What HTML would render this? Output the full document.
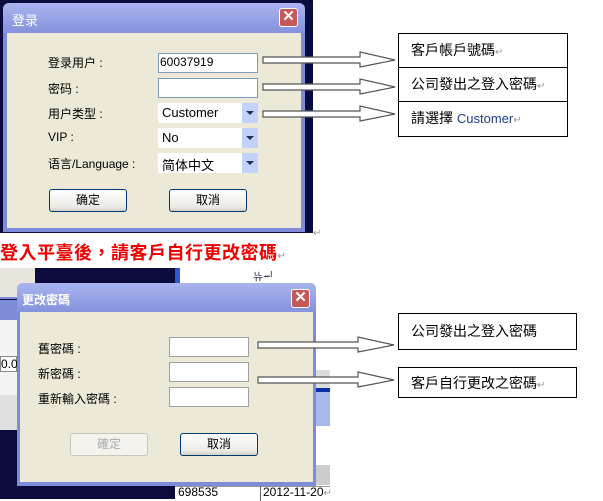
<!DOCTYPE html>
<html><head><meta charset="utf-8"><style>
*{margin:0;padding:0;box-sizing:border-box}
body{width:603px;height:499px;background:#fff;position:relative;overflow:hidden;font-family:"Liberation Sans","Noto Sans CJK SC",sans-serif;font-size:12px;color:#000}
.a{position:absolute}
.inp{position:absolute;background:#fff;border:1px solid #7f9db9}
.sel{position:absolute;background:#fff}
.sel i{position:absolute;right:0;top:0;width:16px;height:100%;background:#c1d3fb}
.sel i:after{content:"";position:absolute;left:4px;top:8px;border-left:4px solid transparent;border-right:4px solid transparent;border-top:4px solid #1d2f5e}
.btn{position:absolute;border:1px solid #003c74;border-radius:3px;background:linear-gradient(#fff,#ecebe6 80%,#d6d0c5);text-align:center;line-height:20px;font-size:12px}
.close{position:absolute;width:19px;height:19px;border:1px solid #fff;border-radius:3px;background:#c4595a;color:#fff;font-size:15px;line-height:16px;text-align:center;font-weight:bold}
.box{position:absolute;border:1px solid #000;font-size:14px;padding-left:12px}
</style></head><body>
<!-- top dialog area -->
<div class="a" style="left:0;top:0;width:313px;height:233px;background:#0b0b3d"></div>
<div class="a" style="left:3px;top:3px;width:302px;height:229px;background:#7e8bd6;border-radius:6px 6px 0 0"></div>
<div class="a" style="left:3px;top:3px;width:302px;height:30px;background:linear-gradient(#a9b4ee,#8592dd);border-radius:6px 6px 0 0"></div>
<div class="a" style="left:12px;top:10px;color:#fff;font-size:13px">登录</div>
<div class="close" style="left:279px;top:8px">✕</div>
<div class="a" style="left:7px;top:33px;width:294px;height:195px;background:#ece9d8"></div>
<div class="a" style="left:48px;top:54px">登录用户 :</div>
<div class="a" style="left:48px;top:80px">密码 :</div>
<div class="a" style="left:48px;top:105px">用户类型 :</div>
<div class="a" style="left:48px;top:130px">VIP :</div>
<div class="a" style="left:48px;top:155px">语言/Language :</div>
<div class="inp" style="left:158px;top:53px;width:100px;height:20px;padding-left:1px;line-height:17px">60037919</div>
<div class="inp" style="left:158px;top:78px;width:100px;height:20px"></div>
<div class="sel" style="left:158px;top:103px;width:100px;height:20px"><span class="a" style="left:4px;top:2px;font-size:13px">Customer</span><i></i></div>
<div class="sel" style="left:158px;top:128px;width:100px;height:20px"><span class="a" style="left:4px;top:2px;font-size:13px">No</span><i></i></div>
<div class="sel" style="left:158px;top:153px;width:100px;height:20px"><span class="a" style="left:4px;top:2px;font-size:13px">简体中文</span><i></i></div>
<div class="btn" style="left:49px;top:189px;width:78px;height:23px">确定</div>
<div class="btn" style="left:169px;top:189px;width:78px;height:23px">取消</div>

<div class="box" style="left:398px;top:33px;width:170px;height:35px;line-height:33px">客戶帳戶號碼<span style="color:#999;font-size:10px">↵</span></div>
<div class="box" style="left:398px;top:67px;width:170px;height:35px;line-height:33px">公司發出之登入密碼<span style="color:#999;font-size:10px">↵</span></div>
<div class="box" style="left:398px;top:101px;width:170px;height:36px;line-height:33px">請選擇 <span style="color:#1f3d8a;font-size:13px">Customer</span><span style="color:#999;font-size:10px">↵</span></div>
<div class="box" style="left:398px;top:313px;width:179px;height:37px;line-height:34px">公司發出之登入密碼</div>
<div class="box" style="left:398px;top:367px;width:179px;height:31px;line-height:30px">客戶自行更改之密碼<span style="color:#999;font-size:10px">↵</span></div>
<div class="a" style="left:313px;top:228px;color:#999;font-size:10px">↵</div>

<!-- red heading -->
<div class="a" style="left:0;top:239px;color:#e00;font-size:18px;font-weight:bold;font-family:'Noto Sans CJK TC','Noto Sans CJK SC',sans-serif;letter-spacing:0.5px;white-space:nowrap">登入平臺後，請客戶自行更改密碼<span style="color:#999;font-size:10px;font-weight:normal">↵</span></div>

<!-- bottom background -->
<div class="a" style="left:0;top:268px;width:330px;height:231px;background:#0b0b3d"></div>
<div class="a" style="left:0;top:268px;width:35px;height:31px;background:#e8e6dc;border-bottom:2px solid #7e8bd6"></div>
<div class="a" style="left:0;top:300px;width:17px;height:20px;background:#7e8bd6"></div>
<div class="a" style="left:0;top:320px;width:17px;height:110px;background:#f4f4f4"></div>
<div class="a" style="left:0;top:356px;width:17px;height:16px;background:#fff;border:1px solid #888;font-size:12px;line-height:14px">0.0</div>
<div class="a" style="left:0;top:395px;width:17px;height:35px;background:#e0e0e0"></div>
<div class="a" style="left:175px;top:268px;width:5px;height:20px;background:#3355cc"></div>
<div class="a" style="left:180px;top:268px;width:150px;height:231px;background:#fff"></div>
<div class="a" style="left:253px;top:268px;font-size:11px;color:#335">ᄔᅲᆈ</div>
<div class="a" style="left:316px;top:370px;width:14px;height:18px;background:#ddd"></div>
<div class="a" style="left:316px;top:388px;width:14px;height:4px;background:#0a2ea8"></div>
<div class="a" style="left:316px;top:392px;width:14px;height:34px;background:#a8b8e8"></div>
<div class="a" style="left:316px;top:465px;width:14px;height:20px;background:#ccc"></div>
<div class="a" style="left:175px;top:486px;width:155px;height:13px;background:#fff;border-top:1px solid #999"></div>
<div class="a" style="left:178px;top:485px;font-size:12px;line-height:14px">698535</div>
<div class="a" style="left:260px;top:485px;font-size:12px;line-height:14px;border-left:1px solid #666;padding-left:2px">2012-11-20<span style="color:#999;font-size:10px">↵</span></div>

<!-- bottom dialog -->
<div class="a" style="left:17px;top:283px;width:299px;height:203px;background:#7e8bd6;border-radius:6px 6px 0 0"></div>
<div class="a" style="left:17px;top:283px;width:299px;height:29px;background:linear-gradient(#a9b4ee,#8592dd);border-radius:6px 6px 0 0"></div>
<div class="a" style="left:22px;top:291px;color:#fff;font-size:12px;font-weight:bold">更改密碼</div>
<div class="close" style="left:291px;top:289px">✕</div>
<div class="a" style="left:20px;top:312px;width:293px;height:170px;background:#ece9d8"></div>
<div class="a" style="left:38px;top:340px">舊密碼 :</div>
<div class="a" style="left:38px;top:365px">新密碼 :</div>
<div class="a" style="left:38px;top:390px">重新輸入密碼 :</div>
<div class="inp" style="left:169px;top:337px;width:80px;height:20px;border-color:#a0a0a0"></div>
<div class="inp" style="left:169px;top:362px;width:80px;height:20px;border-color:#a0a0a0"></div>
<div class="inp" style="left:169px;top:387px;width:80px;height:20px;border-color:#a0a0a0"></div>
<div class="btn" style="left:70px;top:433px;width:78px;height:23px;border-color:#c9c7ba;background:#f4f3ee;color:#aaa">確定</div>
<div class="btn" style="left:180px;top:433px;width:78px;height:23px">取消</div>

<!-- arrows (on top) -->
<svg class="a" style="left:0;top:0" width="603" height="499">
<g fill="#fff" stroke="#555" stroke-width="1.2">
<path d="M263 57 H360 V52 L395 60 L360 67 V63 H263 Z"/>
<path d="M263 84 H360 V79 L395 87 L360 94 V90 H263 Z"/>
<path d="M263 111 H360 V106 L395 114 L360 121 V117 H263 Z"/>
<path d="M258 342 H358 V337 L394 345 L358 352 V348 H258 Z"/>
<path d="M258 377 H358 V372 L394 380 L358 387 V383 H258 Z"/>
</g>
</svg>
</body></html>
